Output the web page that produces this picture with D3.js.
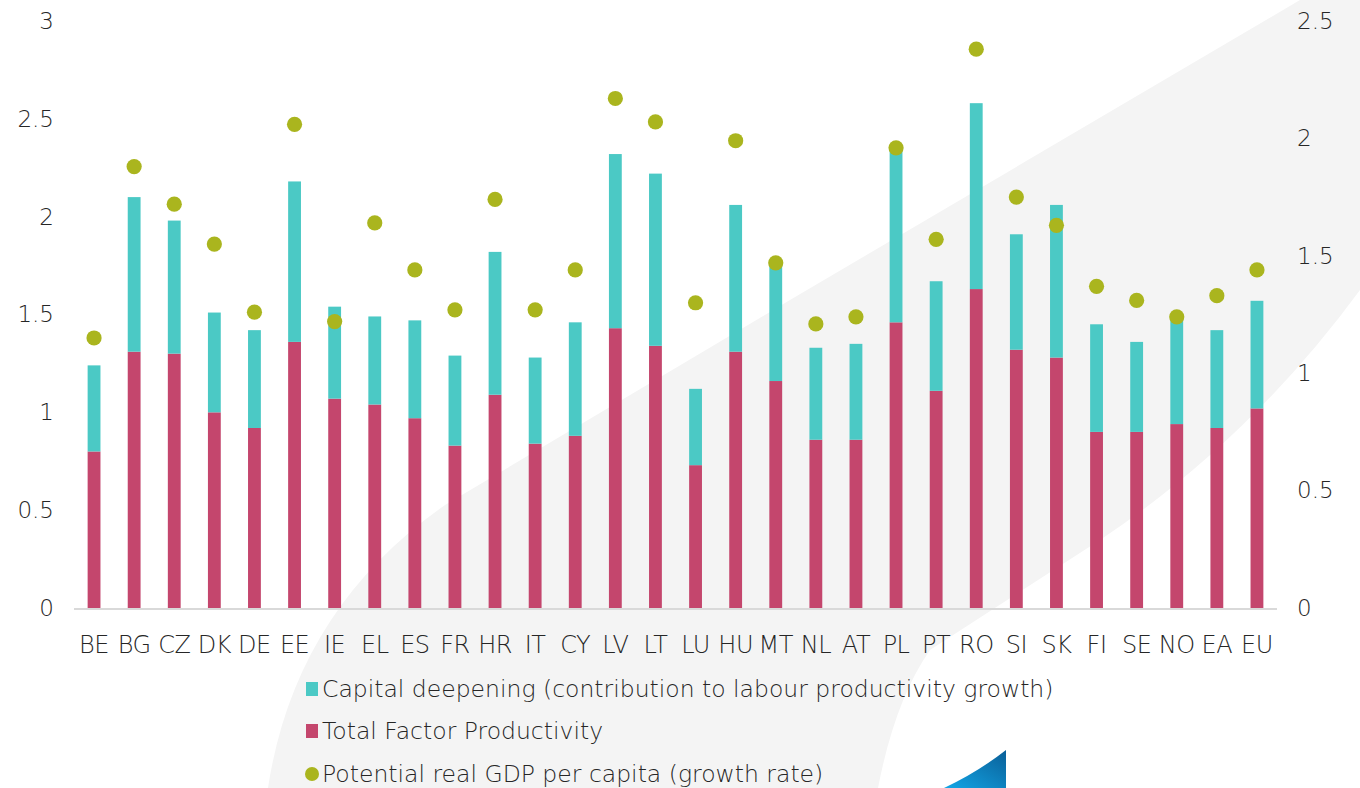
<!DOCTYPE html>
<html>
<head>
<meta charset="utf-8">
<script src="https://cdn.jsdelivr.net/npm/d3@7"></script>
<style>
  html, body { margin: 0; padding: 0; background: #fff; }
  svg { display: block; }
  text { font-family: "DejaVu Sans", sans-serif; font-weight: 200; fill: #262626; }
</style>
</head>
<body>
<svg id="chart" width="1360" height="788"></svg>
<script>
// Country codes along the x axis
const categories = ["BE","BG","CZ","DK","DE","EE","IE","EL","ES","FR","HR","IT","CY","LV","LT","LU","HU","MT","NL","AT","PL","PT","RO","SI","SK","FI","SE","NO","EA","EU"];

// Total Factor Productivity (left axis, bottom of stack)
const tfp = [0.80,1.31,1.30,1.00,0.92,1.36,1.07,1.04,0.97,0.83,1.09,0.84,0.88,1.43,1.34,0.73,1.31,1.16,0.86,0.86,1.46,1.11,1.63,1.32,1.28,0.90,0.90,0.94,0.92,1.02];

// Capital deepening (left axis, stacked on top of TFP)
const capital = [0.44,0.79,0.68,0.51,0.50,0.82,0.47,0.45,0.50,0.46,0.73,0.44,0.58,0.89,0.88,0.39,0.75,0.59,0.47,0.49,0.88,0.56,0.95,0.59,0.78,0.55,0.46,0.54,0.50,0.55];

// Potential real GDP per capita growth rate (right axis)
const gdpGrowth = [1.15,1.88,1.72,1.55,1.26,2.06,1.22,1.64,1.44,1.27,1.74,1.27,1.44,2.17,2.07,1.30,1.99,1.47,1.21,1.24,1.96,1.57,2.38,1.75,1.63,1.37,1.31,1.24,1.33,1.44];

const leftTicks = [0, 0.5, 1, 1.5, 2, 2.5, 3];
const rightTicks = [0, 0.5, 1, 1.5, 2, 2.5];

const legendItems = [
  { label: "Capital deepening (contribution to labour productivity growth)", color: "#4bc9c5", shape: "rect" },
  { label: "Total Factor Productivity", color: "#c4466d", shape: "rect" },
  { label: "Potential real GDP per capita (growth rate)", color: "#aab51e", shape: "circle" }
];

const FONT = "'DejaVu Sans', sans-serif";

const svg = d3.select("#chart");

// Decorative background swoosh and corner mark
const defs = svg.append("defs");
const grad = defs.append("linearGradient").attr("id", "markGrad")
  .attr("x1", "0").attr("y1", "1").attr("x2", "1").attr("y2", "0");
grad.append("stop").attr("offset", "0%").attr("stop-color", "#12a6e6");
grad.append("stop").attr("offset", "100%").attr("stop-color", "#0a5f98");

svg.append("path")
  .attr("d", "M268,788 Q295,610 445,505 L790,300 L1300,0 L1360,0 L1360,290 Q1250,440 1100,540 L930,650 Q895,700 878,788 Z")
  .attr("fill", "#f4f4f4");

svg.append("path")
  .attr("d", "M1006,750 L1006,788 L944,788 Q978,772 1006,750 Z")
  .attr("fill", "url(#markGrad)");

// Scales
const x = d3.scaleBand().domain(categories).range([74, 1277]).paddingInner(0.68).paddingOuter(0.34);
const yL = d3.scaleLinear().domain([0, 3]).range([608, 21]);
const yR = d3.scaleLinear().domain([0, 2.5]).range([608, 21]);

// Stacked bars
const rows = categories.map((c, i) => ({ cat: c, tfp: tfp[i], capital: capital[i], gdp: gdpGrowth[i] }));
const stacked = d3.stack().keys(["tfp", "capital"])(rows);
const colors = { tfp: "#c4466d", capital: "#4bc9c5" };

svg.append("g").selectAll("g")
  .data(stacked)
  .join("g")
  .attr("fill", d => colors[d.key])
  .selectAll("rect")
  .data(d => d)
  .join("rect")
  .attr("x", d => x(d.data.cat))
  .attr("width", x.bandwidth())
  .attr("y", d => yL(d[1]))
  .attr("height", d => yL(d[0]) - yL(d[1]));

// Baseline
svg.append("line")
  .attr("x1", 74).attr("x2", 1277)
  .attr("y1", yL(0) + 1).attr("y2", yL(0) + 1)
  .attr("stroke", "#d9d9d9").attr("stroke-width", 2);

// Growth-rate dots
svg.append("g").selectAll("circle")
  .data(rows)
  .join("circle")
  .attr("cx", d => x(d.cat) + x.bandwidth() / 2)
  .attr("cy", d => yR(d.gdp))
  .attr("r", 7.6)
  .attr("fill", "#aab51e");

// Axes
const axL = svg.append("g").attr("transform", "translate(54,0)")
  .call(d3.axisLeft(yL).tickValues(leftTicks).tickSize(0).tickPadding(0).tickFormat(d3.format("")));
const axR = svg.append("g").attr("transform", "translate(1297,0)")
  .call(d3.axisRight(yR).tickValues(rightTicks).tickSize(0).tickPadding(0).tickFormat(d3.format("")));
const axX = svg.append("g").attr("transform", "translate(0,608)")
  .call(d3.axisBottom(x).tickSize(0).tickPadding(28));

[axL, axR, axX].forEach(ax => {
  ax.select(".domain").remove();
  ax.selectAll("text").style("font-family", FONT)
    .style("font-weight", 200).style("font-size", "23px").attr("fill", "#262626");
});
axX.selectAll("text").attr("dy", "0.71em").style("font-size", "24px").style("letter-spacing", "-0.5px");

// Legend
const legend = svg.append("g");
const legendY = [689, 731, 774];
legendItems.forEach((item, i) => {
  const g = legend.append("g").attr("transform", `translate(0,${legendY[i]})`);
  if (item.shape === "rect") {
    g.append("rect").attr("x", 306).attr("y", -7).attr("width", 12).attr("height", 14).attr("fill", item.color);
  } else {
    g.append("circle").attr("cx", 312).attr("cy", 0).attr("r", 7).attr("fill", item.color);
  }
  g.append("text").attr("x", 322).attr("y", 0).attr("dy", "0.35em")
    .style("font-family", FONT).style("font-weight", 200)
    .style("font-size", "23.5px").text(item.label);
});
</script>
</body>
</html>
